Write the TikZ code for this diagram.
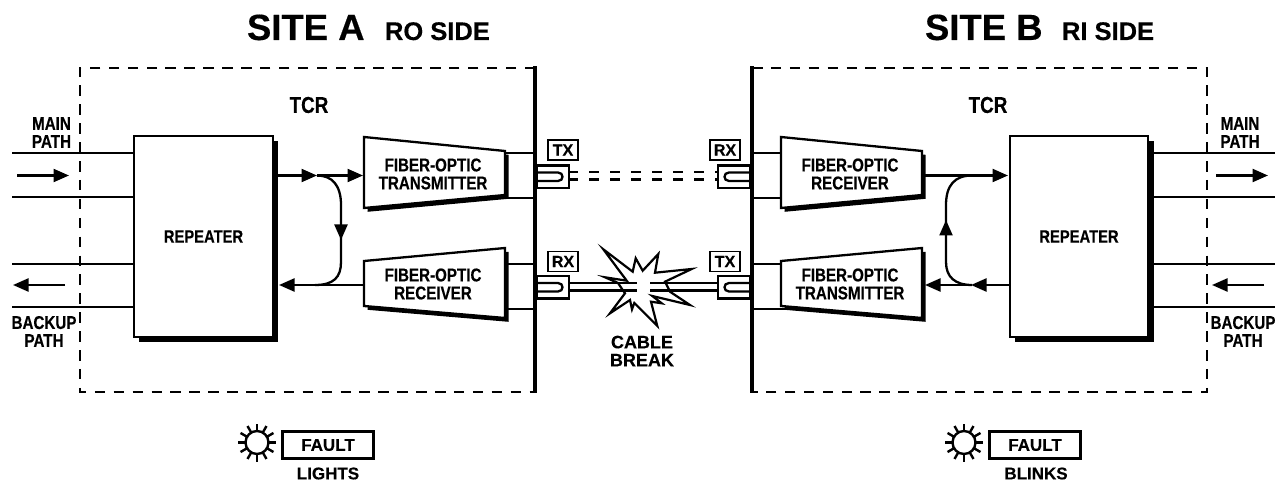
\documentclass[tikz,border=0pt]{standalone}
\usepackage{fontspec}
\setmainfont{Liberation Sans}[BoldFont=* Bold]
\newfontfamily\narrowbf[FakeStretch=0.82,FakeBold=0.35]{Liberation Sans Bold}
\newfontfamily\widebf[FakeBold=0.3]{Liberation Sans Bold}
\usetikzlibrary{arrows.meta,calc}
\tikzset{
  x=1pt,y=-1pt,
  every node/.style={inner sep=0pt,outer sep=0pt},
  wire/.style={line width=2.3pt},
  wall/.style={line width=3.8pt},
  fence/.style={line width=2.4pt,dash pattern=on 10.5pt off 8.4pt},
  arr/.style={line width=2.3pt,-{Triangle[length=15.5pt,width=13pt]}},
  boxnode/.style={draw,line width=2.3pt,fill=white},
  narrowlab/.style={font=\narrowbf\fontsize{18.5}{18}\selectfont,align=center},
  widelab/.style={font=\widebf\fontsize{18}{18}\selectfont,align=center},
  portlab/.style={draw,line width=1.1pt,minimum width=30pt,minimum height=20pt,font=\widebf\fontsize{16}{16}\selectfont},
  faultlab/.style={draw,line width=2.3pt,minimum width=91pt,minimum height=27pt,font=\widebf\fontsize{17}{17}\selectfont},
  statelab/.style={font=\widebf\fontsize{17}{17}\selectfont},
  plug/.style={draw,line width=2.3pt,fill=white},
  fibre/.style={line width=2.3pt},
  cut/.style={line width=2.3pt,dash pattern=on 10pt off 11pt}
}
\newcommand{\sunicon}[2]{%
  \node[draw,circle,line width=2.4pt,minimum size=23pt] (#2) at (#1) {};
  \foreach \a in {0,30,...,330}{\draw[line width=2.4pt] (#2.\a) -- ($(#2)!1.0!\a:($(#2)+(19,0)$)$);}
}
\begin{document}
\begin{tikzpicture}
\useasboundingbox (0,0) rectangle (1275,481);
% titles
\node[anchor=base west,font=\widebf\fontsize{36.5}{36.5}\selectfont] (titleA) at (247,40) {SITE A};
\node[anchor=base west,font=\widebf\fontsize{25.5}{25.5}\selectfont] (subA) at (385,40) {RO SIDE};
\node[anchor=base west,font=\widebf\fontsize{36.5}{36.5}\selectfont] (titleB) at (925,40) {SITE B};
\node[anchor=base west,font=\widebf\fontsize{25.5}{25.5}\selectfont] (subB) at (1062,40) {RI SIDE};
% frames
\draw[fence] (535,68) -- (80,68) -- (80,392) -- (535,392);
\draw[wall] (535,66.2) -- (535,393);
\draw[fence] (752,68) -- (1207,68) -- (1207,392) -- (752,392);
\draw[wall] (752,66.2) -- (752,393);
\node[narrowlab,font=\narrowbf\fontsize{23}{23}\selectfont] (tcrA) at (309,105) {TCR};
\node[narrowlab,font=\narrowbf\fontsize{23}{23}\selectfont] (tcrB) at (988,105) {TCR};
% repeaters
\fill (139,141) rectangle (278,342);
\node[boxnode,minimum width=139pt,minimum height=201pt,narrowlab,font=\narrowbf\fontsize{18}{18}\selectfont] (repA) at (203.5,236.5) {REPEATER};
\fill (1015,141) rectangle (1154,342);
\node[boxnode,minimum width=138pt,minimum height=201pt,narrowlab,font=\narrowbf\fontsize{18}{18}\selectfont] (repB) at (1079,236.5) {REPEATER};
% outside path coordinates
\foreach \n/\yy in {a/153,b/197,c/264,d/307}{
  \coordinate (l\n) at (12,\yy);
  \coordinate (r\n) at (1275,\yy);
  \draw[wire] (l\n) -- (repA.west |- l\n);
  \draw[wire] (1152,\yy) -- (r\n);
}
\coordinate (m1s) at (17,175.5); \coordinate (m1e) at (69,175.5);
\draw[arr] (m1s) -- (m1e);
\coordinate (b1s) at (65,285); \coordinate (b1e) at (13,285);
\draw[arr] (b1s) -- (b1e);
\coordinate (m2s) at (1216,175.5); \coordinate (m2e) at (1268,175.5);
\draw[arr] (m2s) -- (m2e);
\coordinate (b2s) at (1264,285); \coordinate (b2e) at (1212,285);
\draw[arr] (b2s) -- (b2e);
\node[narrowlab] (mainA) at (51.5,132.5) {MAIN\\[0pt]PATH};
\node[narrowlab] (backA) at (44,331.5) {BACKUP\\[0pt]PATH};
\node[narrowlab] (mainB) at (1240,132.5) {MAIN\\[0pt]PATH};
\node[narrowlab] (backB) at (1243,331.5) {BACKUP\\[0pt]PATH};
% converters
\newcommand{\conv}[9]{%
  \fill[shift={(3.5,3.8)}] (#2,#4) -- (#3,#5) -- (#3,#6) -- (#2,#7) -- cycle;
  \draw[line width=2.3pt,fill=white,line join=miter] (#2,#4) -- (#3,#5) -- (#3,#6) -- (#2,#7) -- cycle;
  \node[narrowlab] (#1) at (#8,{(#5+#6)/2+1}) {#9};
  \coordinate (#1W) at (#2,{(#5+#6)/2});
  \coordinate (#1E) at (#3,{(#5+#6)/2});
}
\draw[wire] (506,153) -- (535,153); \draw[wire] (506,198) -- (535,198);
\draw[wire] (506,264) -- (535,264); \draw[wire] (506,309) -- (535,309);
\draw[wire] (752,153) -- (782,153); \draw[wire] (752,198) -- (782,198);
\draw[wire] (752,264) -- (782,264); \draw[wire] (752,309) -- (787,309);
\conv{txA}{364}{505}{137}{151}{195}{208}{433}{FIBER-OPTIC\\[0pt]TRANSMITTER}
\conv{rxA}{364}{505}{261}{248}{318}{306}{433}{FIBER-OPTIC\\[0pt]RECEIVER}
\conv{rxB}{781}{922}{137}{151}{195}{208}{850}{FIBER-OPTIC\\[0pt]RECEIVER}
\conv{txB}{781}{922}{261}{248}{318}{306}{850}{FIBER-OPTIC\\[0pt]TRANSMITTER}
% left loop
\coordinate (a1) at (278,175.5); \coordinate (a2) at (317,175.5); \coordinate (a3) at (363,175.5);
\coordinate (a4) at (341,240); \coordinate (a5) at (279,285); \coordinate (a6) at (364,285);
\draw[arr] (a1) -- (a2);
\draw[arr] (a2) -- (a3);
\draw[arr] (a6) -- (a5);
\draw[wire] (a2) .. controls (332,175.5) and (341,185) .. (341,205) -- (341,262) .. controls (341,277) and (334,285) .. (315,285);
\draw[arr] (341,205) -- (a4);
% right loop
\coordinate (c1) at (925,175.5); \coordinate (c2) at (1008,175.5);
\coordinate (c3) at (1010,285); \coordinate (c4) at (971,285); \coordinate (c5) at (925,285);
\coordinate (c6) at (946,220);
\draw[arr] (c1) -- (c2);
\draw[arr] (c3) -- (c4);
\draw[arr] (c4) -- (c5);
\draw[wire] (972,175.5) .. controls (955,175.5) and (946,185) .. (946,205) -- (946,262) .. controls (946,277) and (955,285) .. (972,285);
\draw[arr] (946,250) -- (c6);
% break star
\draw[line width=2.2pt,fill=white,line join=miter]
 (603.3,249.3) -- (632.7,271.7) -- (635.7,258.3) -- (642.7,270.7) -- (658.3,254) -- (655,272.7) -- (691.7,269) -- (665,281.7)
 -- (670,291.7) -- (690,305) -- (652.3,296) -- (661.7,303.3) -- (651,301.7) -- (657.3,326) -- (634.3,303) -- (632,309.3)
 -- (630,300) -- (610,313.3) -- (625,293.3) -- (618,283) -- (605,277.3) -- (626.7,280.7) -- cycle;
% cables
\coordinate (cl1) at (637,283); \coordinate (cl2) at (637,290.5);
\coordinate (cr1) at (650,283); \coordinate (cr2) at (650,290.5);
\draw[fibre] (565,283) -- (cl1); \draw[fibre] (565,290.5) -- (cl2);
\draw[fibre] (720,283) -- (cr1); \draw[fibre] (720,290.5) -- (cr2);
\draw[cut] (568,172) -- (718,172);
\draw[cut] (568,179.5) -- (718,179.5);
% plugs
\newcommand{\plugL}[1]{%
  \draw[plug] (537,#1) rectangle (569,{#1+22.5});
  \draw[fibre] (537,{#1+7}) -- (558,{#1+7}) .. controls (564,{#1+7}) and (564,{#1+15.5}) .. (558,{#1+15.5}) -- (537,{#1+15.5});
}
\newcommand{\plugR}[1]{%
  \draw[plug] (750,#1) rectangle (718,{#1+22.5});
  \draw[fibre] (750,{#1+7}) -- (729,{#1+7}) .. controls (723,{#1+7}) and (723,{#1+15.5}) .. (729,{#1+15.5}) -- (750,{#1+15.5});
}
\plugL{165.5}
\plugL{276}
\plugR{165.5}
\plugR{276}
% port labels
\node[portlab] (tx1) at (563,150) {TX};
\node[portlab] (rx1) at (725,150) {RX};
\node[portlab] (rx2) at (563,261.5) {RX};
\node[portlab] (tx2) at (725,261.5) {TX};
\node[widelab] (cable) at (642,351) {CABLE\\[0pt]BREAK};
% fault
\sunicon{257,442.5}{sunA}
\node[faultlab] (faultA) at (328,445) {FAULT};
\node[statelab] (lights) at (328,473.5) {LIGHTS};
\sunicon{964,442.5}{sunB}
\node[faultlab] (faultB) at (1035,445) {FAULT};
\node[statelab] (blinks) at (1036,473.5) {BLINKS};
\end{tikzpicture}
\end{document}
